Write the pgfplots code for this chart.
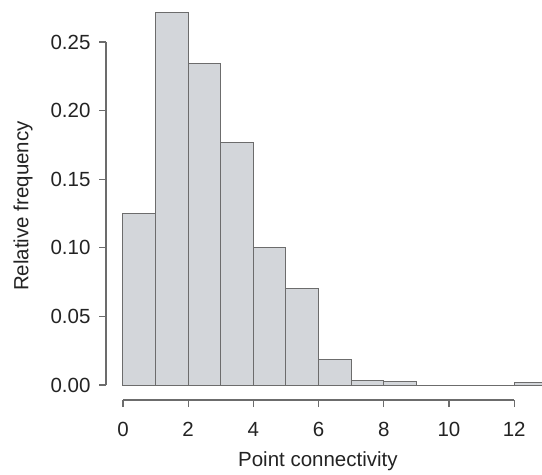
\documentclass[border=0pt]{standalone}
\usepackage{pgfplots}
\pgfplotsset{compat=1.18}
\usepackage{fontspec}
\setmainfont{Liberation Sans}
\definecolor{barfill}{RGB}{211,214,218}
\definecolor{edge}{RGB}{108,108,108}
\definecolor{txt}{RGB}{35,35,35}
\begin{document}
\begin{tikzpicture}
\begin{axis}[
  at={(106bp,75bp)}, anchor=south west,
  scale only axis, width=436bp, height=400bp,
  xmin=-0.521, xmax=12.853, ymin=-0.0109, ymax=0.2806,
  clip mode=individual,
  axis lines*=left, axis line style={draw=none},
  tick align=outside, major tick length=7bp,
  tick style={draw=edge, line width=1.1bp},
  xtick={0,2,4,6,8,10,12},
  ytick={0,0.05,0.10,0.15,0.20,0.25},
  /pgf/number format/assume math mode=true,
  y tick label style={xshift=-5bp, /pgf/number format/fixed, /pgf/number format/fixed zerofill, /pgf/number format/precision=2},
  x tick label style={yshift=-12bp},
  tick label style={font=\fontsize{20.5bp}{24bp}\selectfont, text=txt},
  xlabel={Point connectivity},
  ylabel={Relative frequency},
  xlabel style={at={(rel axis cs:0.486,-0.1675)}, anchor=base, font=\fontsize{20.5bp}{24bp}\selectfont, text=txt},
  ylabel style={at={(rel axis cs:-0.190,0.485)}, anchor=center, font=\fontsize{20.5bp}{24bp}\selectfont, text=txt},
]
\addplot[ybar interval, fill=barfill, draw=edge, line width=1bp] coordinates {
  (0,0.125) (1,0.2716) (2,0.234) (3,0.1771) (4,0.0999) (5,0.0707)
  (6,0.0187) (7,0.0036) (8,0.0028) (9,0) (10,0) (11,0) (12,0.0015) (13,0)
};
\draw[edge, line width=1.1bp] (axis cs:-0.521,0) -- (axis cs:-0.521,0.25);
\draw[edge, line width=1.1bp] (axis cs:0,-0.0109) -- (axis cs:12,-0.0109);
\end{axis}
\pgfresetboundingbox
\useasboundingbox (0,0) rectangle (542bp,475bp);
\end{tikzpicture}
\end{document}
